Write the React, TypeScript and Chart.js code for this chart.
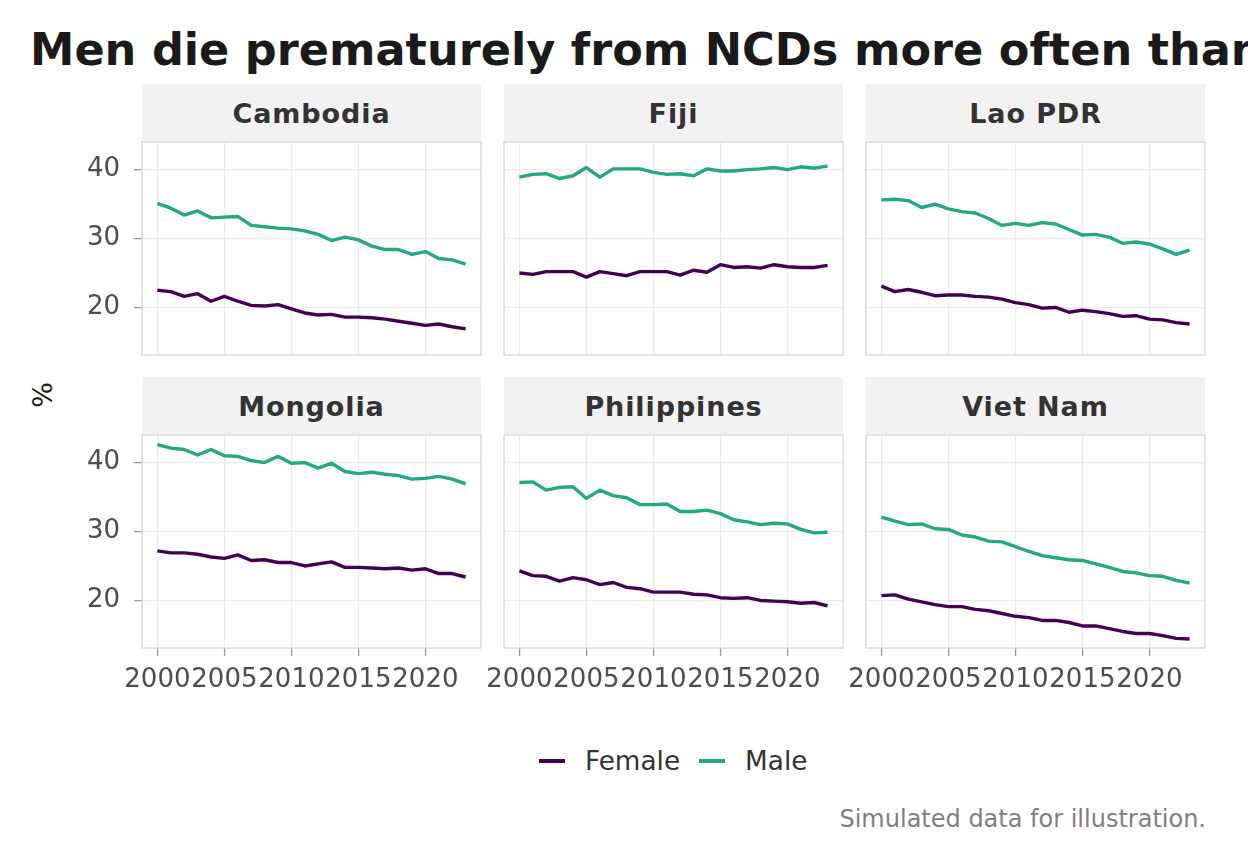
import React, { useEffect, useRef } from "react";
import { Chart, registerables } from "chart.js";

Chart.register(...registerables);

const years = [2000, 2001, 2002, 2003, 2004, 2005, 2006, 2007, 2008, 2009, 2010, 2011, 2012, 2013, 2014, 2015, 2016, 2017, 2018, 2019, 2020, 2021, 2022, 2023];
const countries = ["Cambodia", "Fiji", "Lao PDR", "Mongolia", "Philippines", "Viet Nam"];
const seriesNames = ["Female", "Male"];

const cambodiaFemale = [22.5, 22.3, 21.6, 22.0, 20.9, 21.6, 20.9, 20.3, 20.2, 20.4, 19.8, 19.2, 18.9, 19.0, 18.6, 18.6, 18.5, 18.3, 18.0, 17.7, 17.4, 17.6, 17.2, 16.9];
const cambodiaMale = [35.1, 34.4, 33.4, 34.0, 33.0, 33.1, 33.2, 31.9, 31.7, 31.5, 31.4, 31.1, 30.6, 29.7, 30.2, 29.8, 28.9, 28.4, 28.4, 27.7, 28.1, 27.1, 26.9, 26.3];
const fijiFemale = [25.0, 24.8, 25.2, 25.2, 25.2, 24.4, 25.2, 24.9, 24.6, 25.2, 25.2, 25.2, 24.7, 25.4, 25.1, 26.2, 25.8, 25.9, 25.7, 26.2, 25.9, 25.8, 25.8, 26.1];
const fijiMale = [38.9, 39.3, 39.4, 38.7, 39.1, 40.3, 38.9, 40.1, 40.1, 40.1, 39.6, 39.3, 39.4, 39.1, 40.1, 39.8, 39.8, 40.0, 40.1, 40.3, 40.0, 40.4, 40.2, 40.5];
const laoFemale = [23.1, 22.3, 22.6, 22.2, 21.7, 21.8, 21.8, 21.6, 21.5, 21.2, 20.7, 20.4, 19.9, 20.0, 19.3, 19.6, 19.4, 19.1, 18.7, 18.8, 18.3, 18.2, 17.8, 17.6];
const laoMale = [35.6, 35.7, 35.5, 34.5, 35.0, 34.3, 33.9, 33.7, 32.9, 31.9, 32.2, 31.9, 32.3, 32.1, 31.3, 30.5, 30.6, 30.2, 29.3, 29.5, 29.2, 28.5, 27.7, 28.3];
const mongoliaFemale = [27.2, 26.9, 26.9, 26.7, 26.3, 26.1, 26.6, 25.8, 25.9, 25.5, 25.5, 25.0, 25.3, 25.6, 24.8, 24.8, 24.7, 24.6, 24.7, 24.4, 24.6, 23.9, 23.9, 23.4];
const mongoliaMale = [42.6, 42.1, 41.9, 41.1, 41.9, 41.0, 40.9, 40.3, 40.0, 40.9, 39.9, 40.0, 39.2, 39.9, 38.7, 38.4, 38.6, 38.3, 38.1, 37.6, 37.7, 38.0, 37.6, 36.9];
const philippinesFemale = [24.3, 23.6, 23.5, 22.8, 23.3, 23.0, 22.3, 22.6, 21.9, 21.7, 21.2, 21.2, 21.2, 20.9, 20.8, 20.4, 20.3, 20.4, 20.0, 19.9, 19.8, 19.6, 19.7, 19.2];
const philippinesMale = [37.1, 37.2, 36.0, 36.4, 36.5, 34.8, 36.0, 35.2, 34.9, 33.9, 33.9, 34.0, 32.9, 32.9, 33.1, 32.6, 31.7, 31.4, 31.0, 31.2, 31.1, 30.3, 29.8, 29.9];
const vietNamFemale = [20.7, 20.8, 20.2, 19.8, 19.4, 19.1, 19.1, 18.7, 18.5, 18.1, 17.7, 17.5, 17.1, 17.1, 16.8, 16.3, 16.3, 15.9, 15.5, 15.2, 15.2, 14.9, 14.5, 14.4];
const vietNamMale = [32.1, 31.5, 31.0, 31.1, 30.4, 30.3, 29.5, 29.2, 28.6, 28.5, 27.8, 27.1, 26.5, 26.2, 25.9, 25.8, 25.3, 24.8, 24.2, 24.0, 23.6, 23.5, 22.9, 22.5];

const femaleSeries = [cambodiaFemale, fijiFemale, laoFemale, mongoliaFemale, philippinesFemale, vietNamFemale];
const maleSeries = [cambodiaMale, fijiMale, laoMale, mongoliaMale, philippinesMale, vietNamMale];

const xTicks = [2000, 2005, 2010, 2015, 2020];
const yTicks = [20, 30, 40];

const FONT = '"DejaVu Sans", sans-serif';
const FEMALE = "#440154";
const MALE = "#22A884";
const GRID = "#EBEBEB";
const BORDER = "#D6D6D6";
const TICK = "#9A9A9A";

// panel geometry (px)
const colLeft = [142, 504, 866];
const stripTop = [84, 377];
const STRIP_H = 58;
const PANEL_W = 339;
const PANEL_H = 213;
const AXIS = 60;
const PAD = 6;

Chart.defaults.font.family = FONT;

const panelBorder = {
    id: "panelBorder",
    afterDatasetsDraw(chart: any) {
        const { ctx, chartArea: a } = chart;
        ctx.save();
        ctx.strokeStyle = BORDER;
        ctx.lineWidth = 1.3;
        ctx.strokeRect(a.left, a.top, a.right - a.left, a.bottom - a.top);
        ctx.restore();
    },
};

// keep the chart area fixed: no extra room asked for by the tick labels
const noPadding = (s: any) => {
    s.paddingLeft = 0;
    s.paddingRight = 0;
    s.paddingTop = 0;
    s.paddingBottom = 0;
};

const Panel = ({ index }: { index: number }) => {
    const ref = useRef<HTMLCanvasElement>(null);
    const col = index % 3;
    const row = Math.floor(index / 3);
    const showX = row === 1;
    const showY = col === 0;
    const panelTop = stripTop[row] + STRIP_H;

    useEffect(() => {
        const canvas = ref.current as HTMLCanvasElement;
        const female = femaleSeries[index];
        const male = maleSeries[index];

        const chart = new Chart(canvas, {
            type: "line",
            data: {
                datasets: [
                    {
                        label: seriesNames[0],
                        data: years.map((x, i) => ({ x, y: female[i] })),
                        borderColor: FEMALE,
                        borderWidth: 3.4,
                        pointRadius: 0,
                        tension: 0,
                        borderJoinStyle: "round",
                    },
                    {
                        label: seriesNames[1],
                        data: years.map((x, i) => ({ x, y: male[i] })),
                        borderColor: MALE,
                        borderWidth: 3.4,
                        pointRadius: 0,
                        tension: 0,
                        borderJoinStyle: "round",
                    },
                ],
            },
            options: {
                responsive: false,
                maintainAspectRatio: false,
                animation: false,
                events: [],
                layout: { padding: { top: PAD, right: PAD, left: 0, bottom: 0 } },
                plugins: { legend: { display: false }, tooltip: { enabled: false } },
                scales: {
                    x: {
                        type: "linear",
                        min: 1998.85,
                        max: 2024.15,
                        afterBuildTicks: (s: any) => {
                            s.ticks = xTicks.map((v) => ({ value: v }));
                        },
                        afterFit: (s: any) => {
                            s.height = AXIS;
                            noPadding(s);
                        },
                        grid: { color: GRID, lineWidth: 1.2, drawTicks: showX, tickLength: 8, tickColor: TICK, tickWidth: 1.3 },
                        border: { display: false },
                        ticks: {
                            display: showX,
                            autoSkip: false,
                            maxRotation: 0,
                            minRotation: 0,
                            padding: 9,
                            color: "#4D4D4D",
                            font: { size: 26, family: FONT },
                            callback: (v: any) => String(v),
                        },
                    },
                    y: {
                        type: "linear",
                        min: 13.1,
                        max: 44.0,
                        afterBuildTicks: (s: any) => {
                            s.ticks = yTicks.map((v) => ({ value: v }));
                        },
                        afterFit: (s: any) => {
                            s.width = AXIS;
                            noPadding(s);
                        },
                        grid: { color: GRID, lineWidth: 1.2, drawTicks: showY, tickLength: 8, tickColor: TICK, tickWidth: 1.3 },
                        border: { display: false },
                        ticks: {
                            display: showY,
                            padding: 14,
                            color: "#4D4D4D",
                            font: { size: 26, family: FONT },
                            callback: (v: any) => String(v),
                        },
                    },
                },
            },
            plugins: [panelBorder],
        } as any);

        return () => chart.destroy();
    }, [index]);

    const w = AXIS + PANEL_W + PAD;
    const h = PAD + PANEL_H + AXIS;

    return (
        <>
            <div
                style={{
                    position: "absolute",
                    left: colLeft[col],
                    top: stripTop[row],
                    width: PANEL_W,
                    height: STRIP_H,
                    background: "#F2F2F2",
                    display: "flex",
                    alignItems: "center",
                    justifyContent: "center",
                    fontWeight: "bold",
                    fontSize: 27,
                    lineHeight: "27px",
                    color: "#333333",
                    letterSpacing: "0.9px",
                }}
            >
                {countries[index]}
            </div>
            <canvas
                ref={ref}
                width={w}
                height={h}
                style={{ position: "absolute", left: colLeft[col] - AXIS, top: panelTop - PAD, width: w, height: h }}
            />
        </>
    );
};

const App = () => {
    useEffect(() => {
        document.body.style.margin = "0";
    }, []);

    return (
        <div
            style={{
                position: "absolute",
                left: 0,
                top: 0,
                width: 1248,
                height: 864,
                overflow: "hidden",
                background: "#FFFFFF",
                fontFamily: FONT,
            }}
        >
            <div
                style={{
                    position: "absolute",
                    left: 30,
                    top: 28,
                    whiteSpace: "nowrap",
                    fontSize: 44.6,
                    lineHeight: "45px",
                    fontWeight: "bold",
                    color: "#1A1A1A",
                }}
            >
                Men die prematurely from NCDs more often than women
            </div>

            <div
                style={{
                    position: "absolute",
                    left: 42,
                    top: 395,
                    transform: "translate(-50%, -50%) rotate(-90deg)",
                    fontSize: 27,
                    lineHeight: "27px",
                    color: "#1A1A1A",
                }}
            >
                %
            </div>

            {countries.map((c, i) => (
                <Panel key={c} index={i} />
            ))}

            <div
                style={{
                    position: "absolute",
                    left: 539,
                    top: 746,
                    height: 30,
                    display: "flex",
                    alignItems: "center",
                    fontSize: 26.3,
                    lineHeight: "26px",
                    color: "#333333",
                }}
            >
                <div style={{ width: 26, height: 3.6, background: FEMALE, marginRight: 20 }} />
                <span style={{ marginRight: 19 }}>{seriesNames[0]}</span>
                <div style={{ width: 26, height: 3.6, background: MALE, marginRight: 20 }} />
                <span>{seriesNames[1]}</span>
            </div>

            <div
                style={{
                    position: "absolute",
                    right: 42,
                    top: 807,
                    fontSize: 24,
                    lineHeight: "24px",
                    color: "#7F7F7F",
                    whiteSpace: "nowrap",
                }}
            >
                Simulated data for illustration.
            </div>
        </div>
    );
};

export default App;
